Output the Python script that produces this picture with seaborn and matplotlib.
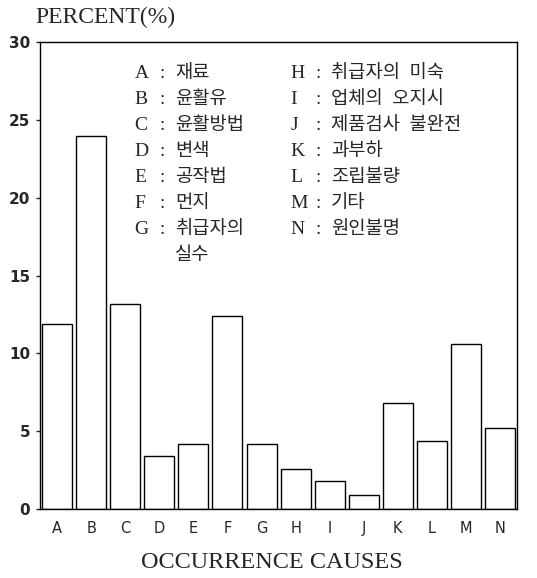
import matplotlib
matplotlib.use('Agg')
import matplotlib.pyplot as plt
import seaborn as sns
import pandas as pd

# data
codes = ['A', 'B', 'C', 'D', 'E', 'F', 'G', 'H', 'I', 'J', 'K', 'L', 'M', 'N']
percent = [11.9, 24.0, 13.2, 3.4, 4.2, 12.4, 4.2, 2.6, 1.8, 0.9, 6.8, 4.4, 10.6, 5.2]
names = ['재료', '윤활유', '윤활방법', '변색', '공작법', '먼지', '취급자의\n실수',
         '취급자의  미숙', '업체의  오지시', '제품검사  불완전', '과부하', '조립불량', '기타', '원인불명']
yticks = [0, 5, 10, 15, 20, 25, 30]

sns.set_style('white')
serif_kr = ['Liberation Serif', 'Noto Sans CJK KR']

df = pd.DataFrame({'cause': codes, 'percent': percent})

fig = plt.figure(figsize=(5.37, 5.78), dpi=100)
ax = fig.add_axes([0.0745, 0.1194, 0.8885, 0.8076])

sns.barplot(data=df, x='cause', y='percent', color='white', edgecolor='black',
            linewidth=1.0, width=0.88, saturation=1, ax=ax)

ax.set_xlim(-0.5, len(codes) - 0.5)
ax.set_ylim(0, 30)
ax.set_yticks(yticks)
ax.set_yticklabels([str(t) for t in yticks], fontsize=11, fontweight='bold', family='DejaVu Sans')
ax.tick_params(axis='y', length=3, direction='out', width=1, left=True, pad=4)
ax.tick_params(axis='x', length=0, labelsize=10.5, pad=9)
for spine in ax.spines.values():
    spine.set_visible(True)
    spine.set_color('black')
    spine.set_linewidth(1.0)
ax.set_xlabel('')
ax.set_ylabel('')

# legend of codes, two columns
row_h = 0.0557
for i, (c, n) in enumerate(zip(codes, names)):
    col = i // 7
    row = i % 7
    x0 = 0.198 if col == 0 else 0.525
    y0 = 0.934 - row * row_h
    ax.text(x0, y0, c, transform=ax.transAxes, fontsize=14, family=serif_kr,
            ha='left', va='center')
    ax.text(x0 + 0.053, y0, ':', transform=ax.transAxes, fontsize=14, family=serif_kr,
            ha='left', va='center')
    for k, line in enumerate(n.split('\n')):
        ax.text(x0 + 0.085, y0 - k * row_h, line, transform=ax.transAxes, fontsize=13.5,
                family=serif_kr, ha='left', va='center')

fig.text(35 / 537, 1 - 17 / 578, 'PERCENT(%)', fontsize=17, family='Liberation Serif',
         ha='left', va='center')
fig.text(272 / 537, 1 - 563 / 578, 'OCCURRENCE CAUSES', fontsize=17.5, family='Liberation Serif',
         ha='center', va='center')

fig.savefig('out.png', dpi=100)
